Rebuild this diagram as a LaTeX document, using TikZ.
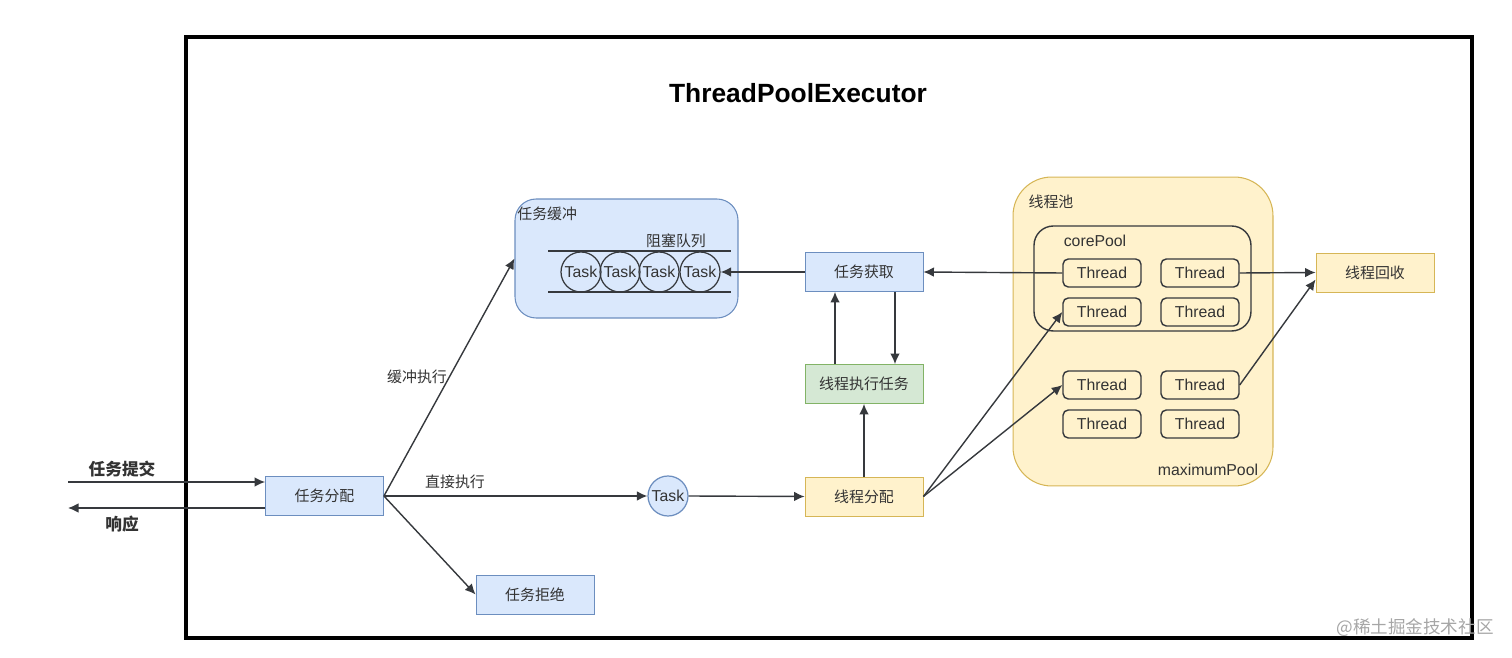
\documentclass[tikz,border=0pt]{standalone}
\usepackage{fontspec}
\setmainfont{Liberation Sans}
\newfontfamily\cjk{Noto Sans CJK SC}
\usetikzlibrary{arrows.meta}
\definecolor{bluef}{HTML}{DAE8FC}
\definecolor{blued}{HTML}{6C8EBF}
\definecolor{greenf}{HTML}{D5E8D4}
\definecolor{greend}{HTML}{82B366}
\definecolor{yelf}{HTML}{FFF2CC}
\definecolor{yeld}{HTML}{D6B656}
\definecolor{txt}{HTML}{333333}
\definecolor{ln}{HTML}{36393D}
\begin{document}
\begin{tikzpicture}[x=0.02cm,y=-0.02cm,
  every node/.style={text=txt},
  box/.style={draw, line width=0.5pt, minimum width=2.36cm, minimum height=0.78cm, inner sep=0pt, font=\cjk\fontsize{8.5}{10}\selectfont},
  bluebox/.style={box, fill=bluef, draw=blued},
  greenbox/.style={box, fill=greenf, draw=greend},
  yelbox/.style={box, fill=yelf, draw=yeld},
  thr/.style={draw=ln, line width=0.8pt, fill=yelf, rounded corners=3pt, minimum width=1.56cm, minimum height=0.56cm, inner sep=0pt, font=\fontsize{9}{10}\selectfont},
  tcirc/.style={circle, draw=ln, line width=0.7pt, minimum size=0.8cm, inner sep=0pt, font=\fontsize{9}{10}\selectfont},
  lbl/.style={font=\cjk\fontsize{8.5}{10}\selectfont, inner sep=0pt},
  arr/.style={draw=ln, line width=0.8pt, -{Latex[length=6pt,width=5.5pt]}}
]
\useasboundingbox (0,0) rectangle (1512,658);
% frame
\draw[line width=1.8pt, black] (186,37) rectangle (1472,638);
\node[font=\bfseries\fontsize{15}{18}\selectfont, text=black] (title) at (798,93) {ThreadPoolExecutor};

% buffer container
\node[draw=blued, line width=0.6pt, fill=bluef, rounded corners=12pt, minimum width=4.46cm, minimum height=2.38cm, inner sep=0pt] (buf) at (626.5,258.5) {};
\node[lbl, anchor=west] (buflbl) at (517,214) {任务缓冲};
\node[lbl] (queuelbl) at (676,241) {阻塞队列};
\draw[draw=ln, line width=0.8pt] (548,251) -- (731,251);
\draw[draw=ln, line width=0.8pt] (548,292) -- (731,292);
\node[tcirc] (t1) at (581,272) {Task};
\node[tcirc] (t2) at (620,272) {Task};
\node[tcirc] (t3) at (659,272) {Task};
\node[tcirc] (t4) at (700,272) {Task};

% middle boxes
\node[bluebox] (fetch) at (864,272) {任务获取};
\node[greenbox] (exec) at (864,384) {线程执行任务};
\node[yelbox] (alloc) at (864,496.5) {线程分配};
\node[tcirc, fill=bluef, draw=blued] (tk) at (668,496) {Task};

% left boxes
\node[bluebox] (dispatch) at (324.5,496) {任务分配};
\node[bluebox] (reject) at (535,594.5) {任务拒绝};
\coordinate (inp) at (68,482);
\coordinate (outp) at (68,508);
\node[lbl, font=\cjk\bfseries\fontsize{9.5}{11}\selectfont] (submitlbl) at (122,469) {任务提交};
\node[lbl, font=\cjk\bfseries\fontsize{9.5}{11}\selectfont] (resplbl) at (122,524) {响应};

% thread pool
\node[draw=yeld, line width=0.6pt, fill=yelf, rounded corners=22pt, minimum width=5.2cm, minimum height=6.18cm, inner sep=0pt] (pool) at (1143,331.5) {};
\node[lbl] (poollbl) at (1051,202) {线程池};
\node[draw=ln, line width=0.8pt, rounded corners=11pt, minimum width=4.34cm, minimum height=2.1cm, inner sep=0pt] (core) at (1142.5,278.5) {};
\node[font=\fontsize{9}{10}\selectfont, inner sep=0pt] (corelbl) at (1095,241) {corePool};
\node[font=\fontsize{9}{10}\selectfont, inner sep=0pt] (maxlbl) at (1208,470) {maximumPool};
\node[thr] (th11) at (1102,273) {Thread};
\node[thr] (th12) at (1200,273) {Thread};
\node[thr] (th21) at (1102,312) {Thread};
\node[thr] (th22) at (1200,312) {Thread};
\node[thr] (th31) at (1102,385) {Thread};
\node[thr] (th32) at (1200,385) {Thread};
\node[thr] (th41) at (1102,424) {Thread};
\node[thr] (th42) at (1200,424) {Thread};
\node[yelbox] (recycle) at (1375,272.5) {线程回收};

% connectors
\draw[arr] (inp) -- (dispatch.west |- inp);
\draw[arr] (dispatch.west |- outp) -- (outp);
\draw[arr] (dispatch.east) -- (buf.west);
\draw[arr] (dispatch.east) -- (reject.west);
\draw[arr] (dispatch.east) -- (tk.west);
\draw[arr] (tk.east) -- (alloc.west);
\draw[arr] (fetch.west) -- (t4.east);
\draw[arr] ([xshift=-0.58cm]exec.north) -- ([xshift=-0.58cm]fetch.south);
\draw[arr] ([xshift=0.62cm]fetch.south) -- ([xshift=0.62cm]exec.north);
\draw[arr] (alloc.north) -- (exec.south);
\draw[arr] (alloc.east) -- (th21.west);
\draw[arr] (alloc.east) -- (th31.west);
\draw[arr] (th11.west) -- (fetch.east);
\draw[arr] (th12.east) -- (recycle.west);
\draw[arr] (th32.east) -- ([yshift=-4pt]recycle.west);

\node[lbl] (buflab) at (417,377) {缓冲执行};
\node[lbl] (directlab) at (455,482) {直接执行};

\node[font=\cjk\fontsize{10}{12}\selectfont, text=black!35, inner sep=0pt] (wm) at (1415,628) {@稀土掘金技术社区};
\end{tikzpicture}
\end{document}
